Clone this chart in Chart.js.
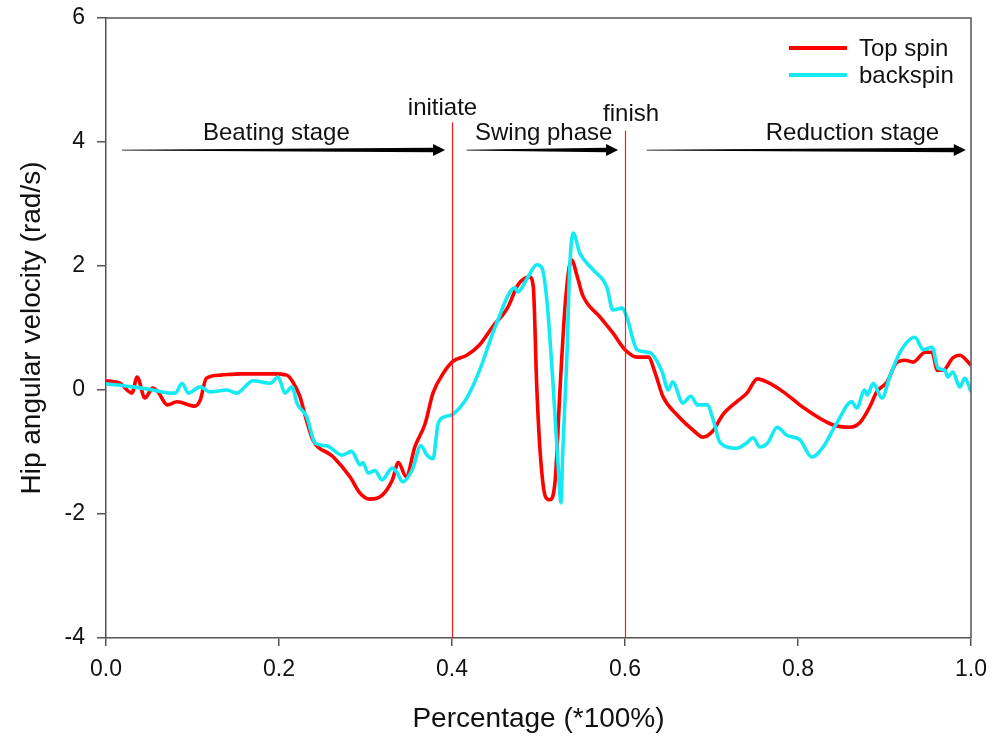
<!DOCTYPE html>
<html lang="en">
<head>
<meta charset="UTF-8">
<title>Hip angular velocity</title>
<script src="https://cdn.jsdelivr.net/npm/chart.js"></script>
<style>
  html, body { margin: 0; padding: 0; background: #fff; }
  #wrap { width: 1003px; height: 744px; }
</style>
</head>
<body>
<div id="wrap"><canvas id="hipChart"></canvas></div>
<script>
// x is fraction of the stroke (*100%), y in rad/s
const topSpinX = [0.000,0.016,0.030,0.036,0.045,0.054,0.060,0.071,0.082,0.103,0.109,0.116,0.132,0.155,0.193,0.209,0.216,0.224,0.232,0.239,0.262,0.282,0.294,0.305,0.319,0.331,0.338,0.347,0.357,0.369,0.378,0.390,0.401,0.417,0.432,0.447,0.464,0.476,0.484,0.490,0.494,0.498,0.502,0.508,0.513,0.519,0.525,0.531,0.538,0.545,0.551,0.571,0.586,0.600,0.614,0.627,0.635,0.644,0.660,0.679,0.690,0.701,0.713,0.729,0.741,0.753,0.764,0.783,0.802,0.810,0.840,0.860,0.872,0.883,0.891,0.903,0.914,0.924,0.933,0.947,0.955,0.961,0.968,0.979,0.987,1.000];
const topSpinY = [0.15,0.11,-0.05,0.21,-0.13,0.03,-0.03,-0.24,-0.19,-0.26,-0.16,0.19,0.24,0.26,0.26,0.24,0.13,-0.1,-0.5,-0.8,-1.07,-1.4,-1.67,-1.76,-1.7,-1.45,-1.17,-1.4,-0.92,-0.54,-0.05,0.27,0.46,0.56,0.73,1.02,1.32,1.69,1.8,1.82,1.66,0.05,-1.02,-1.72,-1.77,-1.5,0.05,1.4,2.1,1.82,1.53,1.18,0.92,0.65,0.53,0.53,0.27,-0.11,-0.4,-0.65,-0.76,-0.67,-0.4,-0.19,-0.05,0.18,0.13,-0.03,-0.24,-0.32,-0.56,-0.6,-0.52,-0.27,-0.03,0.13,0.44,0.48,0.45,0.61,0.61,0.32,0.32,0.52,0.56,0.4];

const backSpinX = [0.000,0.031,0.054,0.074,0.080,0.088,0.095,0.109,0.120,0.140,0.151,0.170,0.190,0.199,0.207,0.215,0.221,0.232,0.242,0.255,0.273,0.284,0.294,0.297,0.303,0.311,0.319,0.331,0.336,0.343,0.354,0.364,0.371,0.378,0.384,0.392,0.401,0.417,0.432,0.450,0.473,0.476,0.487,0.498,0.504,0.510,0.517,0.523,0.526,0.528,0.533,0.536,0.540,0.548,0.563,0.579,0.586,0.597,0.602,0.614,0.629,0.643,0.650,0.655,0.667,0.676,0.684,0.695,0.702,0.710,0.729,0.741,0.748,0.756,0.765,0.776,0.787,0.802,0.816,0.829,0.845,0.862,0.868,0.877,0.880,0.887,0.897,0.906,0.918,0.935,0.945,0.955,0.962,0.970,0.973,0.979,0.987,0.993,1.000];
const backSpinY = [0.1,0.05,0,-0.05,-0.05,0.11,-0.05,0.05,-0.03,0,-0.05,0.15,0.11,0.21,-0.05,0.05,-0.22,-0.43,-0.86,-0.9,-1.05,-0.99,-1.21,-1.17,-1.34,-1.3,-1.45,-1.26,-1.32,-1.48,-1.29,-0.9,-1.05,-1.11,-0.54,-0.43,-0.39,-0.13,0.32,1.02,1.65,1.58,1.8,2.02,1.97,1.4,0.05,-1.29,-1.82,-1.02,0.6,1.94,2.53,2.2,1.94,1.66,1.29,1.32,1.18,0.65,0.6,0.29,0,0.13,-0.21,-0.1,-0.24,-0.24,-0.48,-0.85,-0.94,-0.85,-0.77,-0.92,-0.85,-0.6,-0.73,-0.8,-1.08,-0.92,-0.53,-0.19,-0.29,0,-0.08,0.11,-0.13,0.21,0.61,0.85,0.65,0.69,0.35,0.32,0.21,0.29,0.05,0.19,-0.03];

const seriesNames = ['Top spin', 'backspin'];
const seriesColors = ['#ff0000', '#14eaf4'];
const stageNames = ['Beating stage', 'Swing phase', 'Reduction stage'];
const markerNames = ['initiate', 'finish'];
const markerX = [0.4, 0.6];

const FONT = '"Liberation Sans", Arial, sans-serif';

function toPoints(xs, ys) {
    return xs.map((x, i) => ({ x: x, y: ys[i] }));
}

function drawArrow(ctx, x1, x2, y) {
    const head = 12, half = 6, xb = x2 - head;
    ctx.beginPath();
    ctx.moveTo(x1, y - 0.4);
    ctx.lineTo(xb, y - 2.2);
    ctx.lineTo(xb, y - half);
    ctx.lineTo(x2, y);
    ctx.lineTo(xb, y + half);
    ctx.lineTo(xb, y + 2.2);
    ctx.lineTo(x1, y + 0.4);
    ctx.closePath();
    ctx.fill();
}

// stage arrows, phase markers, frame and legend
const annotations = {
    id: 'annotations',
    afterDatasetsDraw(chart) {
        const ctx = chart.ctx;
        const xs = chart.scales.x, ys = chart.scales.y;
        const area = chart.chartArea;
        ctx.save();

        // frame top + right
        ctx.strokeStyle = '#555';
        ctx.lineWidth = 1.5;
        ctx.beginPath();
        ctx.moveTo(area.left, area.top);
        ctx.lineTo(area.right, area.top);
        ctx.lineTo(area.right, area.bottom);
        ctx.stroke();

        // vertical phase markers
        const markerTop = [4.32, 4.18];
        const markerLabelY = [4.55, 4.45];
        ctx.strokeStyle = '#ff1a1a';
        ctx.lineWidth = 1.2;
        markerX.forEach((mx, i) => {
            const px = Math.round(xs.getPixelForValue(mx)) + 0.5;
            ctx.beginPath();
            ctx.moveTo(px, ys.getPixelForValue(markerTop[i]));
            ctx.lineTo(px, area.bottom);
            ctx.stroke();
        });

        ctx.fillStyle = '#111';
        ctx.font = '24px ' + FONT;
        ctx.textAlign = 'center';
        ctx.textBaseline = 'middle';
        const markerLabelX = [0.389, 0.607];
        markerNames.forEach((t, i) => {
            ctx.fillText(t, xs.getPixelForValue(markerLabelX[i]), ys.getPixelForValue(markerLabelY[i]));
        });

        // stage arrows + labels
        const arrows = [[0.0185, 0.392], [0.417, 0.592], [0.625, 0.994]];
        const stageLabelX = [0.197, 0.506, 0.863];
        const arrowY = ys.getPixelForValue(3.87);
        const labelY = ys.getPixelForValue(4.14);
        arrows.forEach((a, i) => {
            ctx.fillStyle = '#000';
            drawArrow(ctx, xs.getPixelForValue(a[0]), xs.getPixelForValue(a[1]), arrowY);
            ctx.fillStyle = '#111';
            ctx.fillText(stageNames[i], xs.getPixelForValue(stageLabelX[i]), labelY);
        });

        // legend
        ctx.textAlign = 'left';
        ctx.lineWidth = 4;
        seriesNames.forEach((name, i) => {
            const y = area.top + 30 + i * 27;
            ctx.strokeStyle = seriesColors[i];
            ctx.beginPath();
            ctx.moveTo(area.right - 182, y);
            ctx.lineTo(area.right - 124, y);
            ctx.stroke();
            ctx.fillStyle = '#111';
            ctx.fillText(name, area.right - 112, y + 1);
        });

        ctx.restore();
    }
};

const ctx = document.getElementById('hipChart').getContext('2d');
new Chart(ctx, {
    type: 'line',
    data: {
        datasets: [{
            label: seriesNames[0],
            data: toPoints(topSpinX, topSpinY),
            borderColor: seriesColors[0],
            borderWidth: 3.6,
            cubicInterpolationMode: 'monotone',
            pointRadius: 0,
            fill: false,
            order: 1
        }, {
            label: seriesNames[1],
            data: toPoints(backSpinX, backSpinY),
            borderColor: seriesColors[1],
            borderWidth: 3.6,
            cubicInterpolationMode: 'monotone',
            pointRadius: 0,
            fill: false,
            order: 0
        }]
    },
    options: {
        responsive: true,
        maintainAspectRatio: false,
        animation: false,
        layout: { padding: { top: 18, right: 32, left: 0, bottom: 0 } },
        plugins: {
            legend: { display: false },
            tooltip: { enabled: false }
        },
        scales: {
            x: {
                type: 'linear',
                min: 0,
                max: 1,
                ticks: {
                    stepSize: 0.2,
                    maxRotation: 0,
                    padding: 10,
                    color: '#111',
                    font: { family: FONT, size: 23 },
                    callback: v => v.toFixed(1)
                },
                grid: { drawOnChartArea: false, tickLength: 8, color: '#555', lineWidth: 1.5 },
                border: { color: '#555', width: 1.5 },
                title: {
                    display: true,
                    text: 'Percentage (*100%)',
                    color: '#111',
                    font: { family: FONT, size: 28 },
                    padding: { top: 0, bottom: 8 }
                },
                afterFit: s => { s.height = 106; s.paddingLeft = 0; s.paddingRight = 0; }
            },
            y: {
                min: -4,
                max: 6,
                ticks: {
                    stepSize: 2,
                    padding: 12,
                    color: '#111',
                    font: { family: FONT, size: 23 }
                },
                grid: { drawOnChartArea: false, tickLength: 9, color: '#555', lineWidth: 1.5 },
                border: { color: '#555', width: 1.5 },
                title: {
                    display: true,
                    text: 'Hip angular velocity (rad/s)',
                    color: '#111',
                    font: { family: FONT, size: 28 },
                    padding: { top: 15, bottom: 0 }
                },
                afterFit: s => { s.width = 106; s.paddingTop = 0; s.paddingBottom = 0; }
            }
        }
    },
    plugins: [annotations]
});
</script>
</body>
</html>
